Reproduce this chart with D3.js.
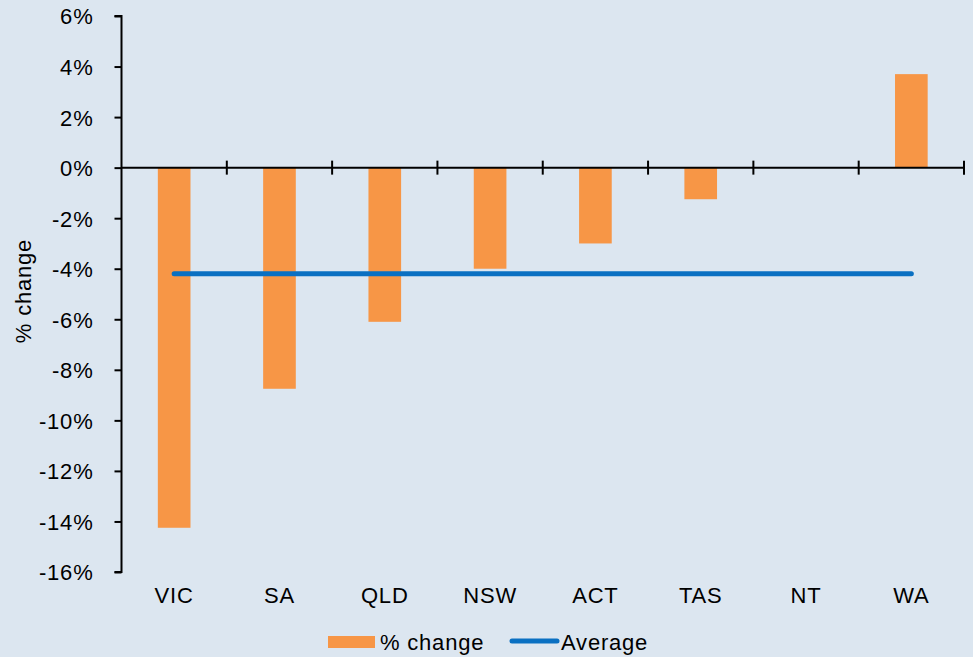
<!DOCTYPE html>
<html>
<head>
<meta charset="utf-8">
<script src="https://cdn.jsdelivr.net/npm/d3@7"></script>
<style>
  html, body { margin: 0; padding: 0; background: #dce6f0; }
  svg { display: block; }
  text { font-family: "Liberation Sans", Arial, Helvetica, sans-serif; fill: #000; font-size: 22px; letter-spacing: 0.8px; }
</style>
</head>
<body>
<svg id="chart"></svg>
<script>
var width = 973;
var height = 657;

// data
var states = ["VIC", "SA", "QLD", "NSW", "ACT", "TAS", "NT", "WA"];
var pctChange = [-14.25, -8.75, -6.1, -4.0, -3.0, -1.25, 0, 3.7];
var average = [-4.2, -4.2, -4.2, -4.2, -4.2, -4.2, -4.2, -4.2];
var yTicks = [6, 4, 2, 0, -2, -4, -6, -8, -10, -12, -14, -16];
var legendLabels = ["% change", "Average"];

var margin = { top: 16, right: 9, bottom: 85, left: 121.5 };

var svg = d3.select("#chart")
  .attr("width", width)
  .attr("height", height);

svg.append("rect")
  .attr("width", width)
  .attr("height", height)
  .attr("fill", "#dce6f0");

var x = d3.scaleBand()
  .domain(states)
  .range([margin.left, width - margin.right])
  .paddingInner(0.69)
  .paddingOuter(0.345);

var xc = d3.scaleBand()
  .domain(states)
  .range([margin.left, width - margin.right]);

var y = d3.scaleLinear()
  .domain([-16, 6])
  .range([height - margin.bottom, margin.top]);

// bars
svg.append("g")
  .selectAll("rect")
  .data(states)
  .join("rect")
  .attr("x", d => x(d))
  .attr("width", x.bandwidth())
  .attr("y", (d, i) => y(Math.max(0, pctChange[i])))
  .attr("height", (d, i) => Math.abs(y(pctChange[i]) - y(0)))
  .attr("fill", "#f79646");

// y axis
var yAxis = svg.append("g")
  .attr("transform", `translate(${margin.left},0)`)
  .call(d3.axisLeft(y).tickValues(yTicks).tickFormat(d => d + "%").tickSize(7).tickPadding(21));
yAxis.select(".domain").attr("stroke", "#000").attr("stroke-width", 2).attr("d", `M-7,${y(-16)}H0V${y(6)}H-7`);
yAxis.selectAll(".tick line").attr("stroke", "#000").attr("stroke-width", 2);
yAxis.selectAll(".tick text")
  .attr("font-size", null)
  .attr("font-family", null)
  .attr("dy", "0.36em");

// x axis at zero
var xAxisG = svg.append("g")
  .attr("transform", `translate(0,${y(0)})`);
xAxisG.append("line")
  .attr("x1", margin.left)
  .attr("x2", width - margin.right)
  .attr("stroke", "#000")
  .attr("stroke-width", 2);
xAxisG.selectAll("line.tk")
  .data(states)
  .join("line")
  .attr("class", "tk")
  .attr("x1", d => xc(d) + xc.bandwidth())
  .attr("x2", d => xc(d) + xc.bandwidth())
  .attr("y1", -7)
  .attr("y2", 7)
  .attr("stroke", "#000")
  .attr("stroke-width", 2);

// category labels
svg.append("g")
  .selectAll("text")
  .data(states)
  .join("text")
  .attr("x", d => xc(d) + xc.bandwidth() / 2)
  .attr("y", 603)
  .attr("text-anchor", "middle")
  .text(d => d);

// average line
var line = d3.line()
  .x((d, i) => xc(states[i]) + xc.bandwidth() / 2)
  .y(d => y(d));
svg.append("path")
  .datum(average)
  .attr("d", line)
  .attr("fill", "none")
  .attr("stroke", "#0a70c2")
  .attr("stroke-width", 5)
  .attr("stroke-linecap", "round");

// y axis title
svg.append("text")
  .attr("transform", "translate(31,291) rotate(-90)")
  .attr("text-anchor", "middle")
  .text("% change");

// legend
var legend = svg.append("g");
legend.append("rect")
  .attr("x", 328).attr("y", 636)
  .attr("width", 47).attr("height", 12)
  .attr("fill", "#f79646");
legend.append("text")
  .attr("x", 380).attr("y", 650)
  .text(legendLabels[0]);
legend.append("line")
  .attr("x1", 512).attr("x2", 557)
  .attr("y1", 641).attr("y2", 641)
  .attr("stroke", "#0a70c2")
  .attr("stroke-width", 5)
  .attr("stroke-linecap", "round");
legend.append("text")
  .attr("x", 561).attr("y", 650)
  .text(legendLabels[1]);
</script>
</body>
</html>
